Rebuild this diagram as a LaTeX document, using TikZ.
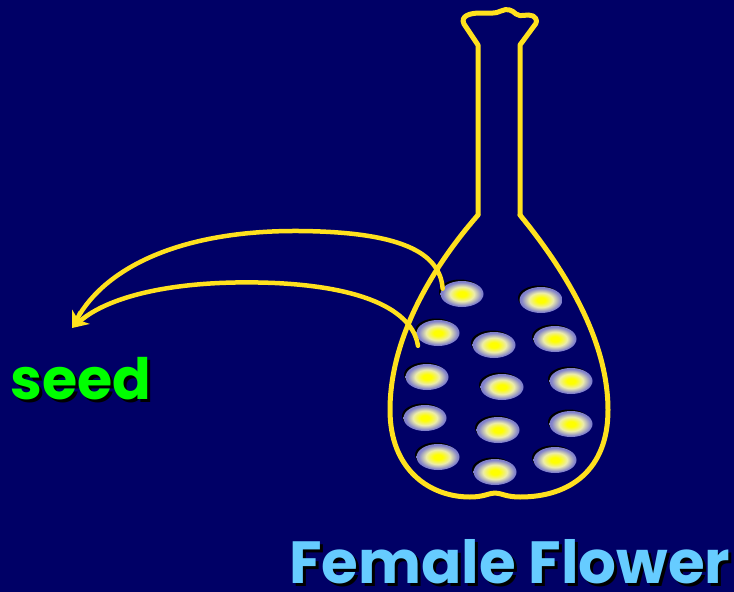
\documentclass[tikz,border=0pt]{standalone}
\usepackage{fontspec}
\usetikzlibrary{shapes.geometric,arrows.meta}
\newfontfamily\labelfont{Poppins}[BoldFont={* Bold}]
\definecolor{bg}{RGB}{0,0,102}
\definecolor{outline}{RGB}{255,225,30}
\definecolor{seedgreen}{RGB}{0,255,0}
\definecolor{titleblue}{RGB}{102,204,255}
\definecolor{ovc}{RGB}{255,255,0}
\definecolor{ovm}{RGB}{236,236,170}
\definecolor{ove}{RGB}{128,128,204}
\pgfdeclareradialshading{ovule}{\pgfpoint{0bp}{0bp}}{color(0bp)=(ovc); color(5bp)=(ovc); color(14bp)=(ovm); color(23bp)=(ove); color(50bp)=(ove)}
% text with a dark drop shadow, set as one box
\newcommand{\shadowed}[2]{\rlap{\kern3pt\raisebox{-3pt}{\color{black}#2}}{\color{#1}#2}}
\tikzset{
  flw/.style={draw=outline, line width=5pt, line join=round, line cap=round},
  carry/.style={draw=outline, line width=4.5pt, line cap=round},
  carrytip/.style={carry, -{Stealth[length=16pt,width=17pt,inset=5pt]}},
  ovulebox/.style={ellipse, minimum width=43pt, minimum height=26pt, inner sep=0pt, shading=ovule},
  ovuleshade/.style={ellipse, minimum width=42pt, minimum height=25pt, inner sep=0pt, fill=black},
  bigtext/.style={font=\labelfont\bfseries\fontsize{#1}{60}\selectfont, inner sep=0pt, anchor=base west},
}
\begin{document}
\begin{tikzpicture}[x=1pt, y=-1pt]
  \path[fill=bg, use as bounding box] (0,0) rectangle (734,592);

  % flask-shaped pistil: neck with frilled stigma, swollen ovary
  \draw[flw] (478,215) -- (478,45) -- (464,24)
    .. controls (460,16) and (470,13) .. (480,13)
    .. controls (490,13) and (495,14) .. (501,11)
    .. controls (507,8) and (512,10) .. (516,14)
    .. controls (521,18) and (527,13) .. (533,16)
    .. controls (538,19) and (537,23) .. (534,26)
    -- (520,45) -- (520,215);
  \draw[flw] (478,215)
    .. controls (430,270) and (390,340) .. (390,410)
    .. controls (390,470) and (430,497) .. (470,497)
    .. controls (484,497) and (489,493) .. (495,493)
    .. controls (501,493) and (506,497) .. (520,497)
    .. controls (570,497) and (608,470) .. (608,410)
    .. controls (608,340) and (565,270) .. (520,215);

  % ovules
  \foreach \n/\x/\y in {1/462/294, 2/541/300, 3/438/333, 4/494/345, 5/555/339,
                        6/427/377, 7/502/387, 8/571/381, 9/425/418, 10/498/430,
                        11/571/424, 12/438/457, 13/555/460, 14/495/472} {
    \node[ovuleshade] (s\n) at (\x-2,\y-2) {};
    \node[ovulebox] (o\n) at (\x,\y) {};
  }

  % seeds carried out of the ovary
  \coordinate (tip) at (72,328);
  \draw[carrytip] (o1.north west) ++(-4,4)
    .. controls (440,252) and (400,232) .. (300,231)
    .. controls (180,230) and (105,268) .. (tip);
  \draw[carrytip] (o6.north) ++(-9,-18)
    .. controls (414,318) and (380,288) .. (275,283)
    .. controls (180,279) and (110,295) .. (tip);

  % labels
  \node[bigtext=57] (seed) at (10,399) {\shadowed{seedgreen}{seed}};
  \node[bigtext=59.5] (title) at (289,583) {\shadowed{titleblue}{Female Flower}};
\end{tikzpicture}
\end{document}
